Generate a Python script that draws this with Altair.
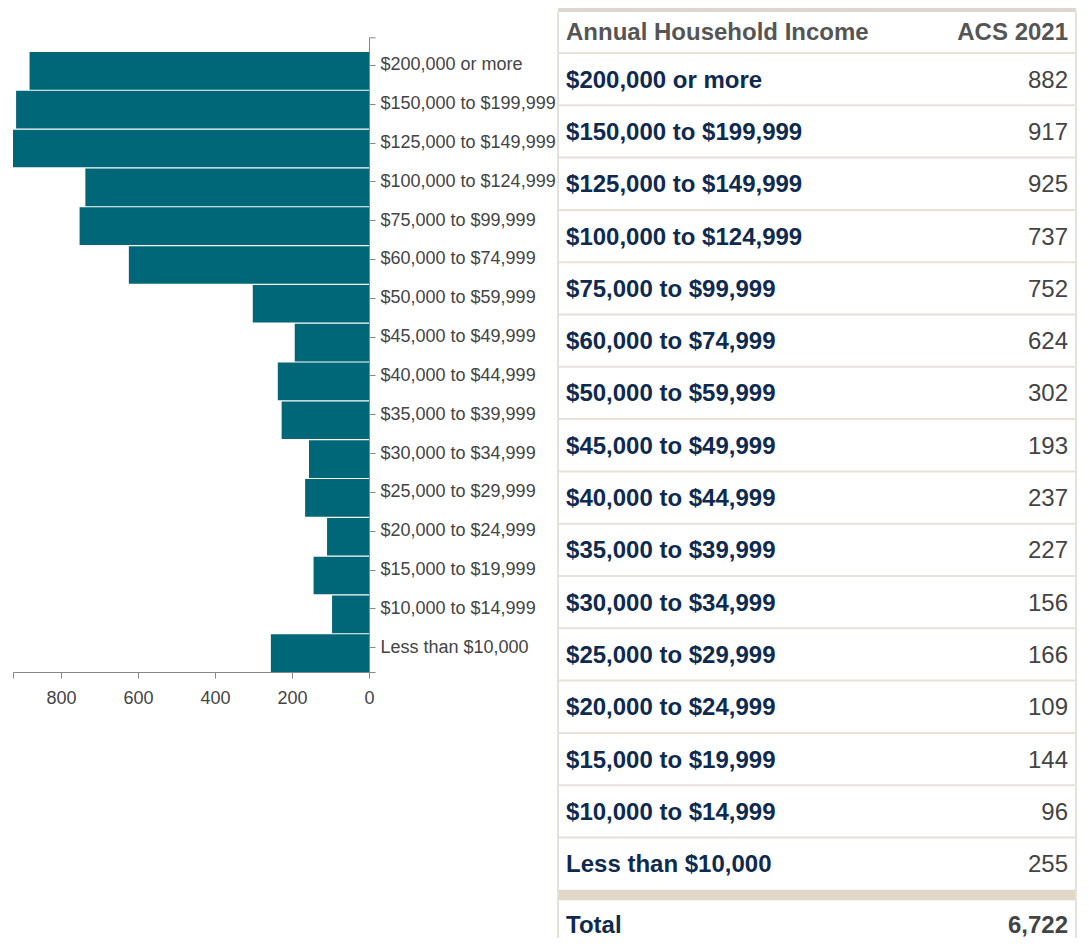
import altair as alt
import pandas as pd

# ---- data ----
categories = [
    "$200,000 or more", "$150,000 to $199,999", "$125,000 to $149,999",
    "$100,000 to $124,999", "$75,000 to $99,999", "$60,000 to $74,999",
    "$50,000 to $59,999", "$45,000 to $49,999", "$40,000 to $44,999",
    "$35,000 to $39,999", "$30,000 to $34,999", "$25,000 to $29,999",
    "$20,000 to $24,999", "$15,000 to $19,999", "$10,000 to $14,999",
    "Less than $10,000",
]
households = [882, 917, 925, 737, 752, 624, 302, 193, 237, 227, 156, 166, 109, 144, 96, 255]
x_ticks = [0, 200, 400, 600, 800]
header_left = "Annual Household Income"
header_right = "ACS 2021"
total_label = "Total"

FONT = "Liberation Sans, Arial, sans-serif"
BAR = "#006778"
NAVY = "#0f2a4f"
GREY = "#444444"
HEAD = "#555555"
LINE = "#e7e2d9"
BAND = "#e0d7c9"
AXIS = "#888888"

df = pd.DataFrame({"income": categories, "households": households, "row": list(range(len(categories)))})
xmax = max(households)

# ---- bar chart ----
BAR_W, BAR_H = 356, 664
Y_TOP = 29.3
bars = alt.Chart(df).mark_bar(color=BAR).encode(
    x=alt.X(
        "households:Q",
        scale=alt.Scale(domain=[0, xmax], reverse=True, nice=False, zero=True),
        axis=alt.Axis(
            values=x_ticks + [xmax], labelExpr=f"datum.value > {x_ticks[-1]} ? '' : datum.label",
            title=None, grid=False, labelFlush=False, labelFontSize=18, labelFont=FONT,
            labelColor=GREY, domainColor=AXIS, tickColor=AXIS, tickSize=6, labelPadding=11,
        ),
    ),
    y=alt.Y(
        "income:N", sort=categories,
        scale=alt.Scale(range=[Y_TOP, BAR_H], paddingInner=0.03, paddingOuter=0.19, align=1),
        axis=alt.Axis(
            orient="right", title=None, tickOffset=-6, labelFontSize=18, labelFont=FONT,
            labelColor=GREY, domainColor=AXIS, tickColor=AXIS, tickSize=6, labelPadding=5,
            grid=False,
        ),
    ),
)
# outer end ticks of the right-hand axis (axis styling)
outer_top = alt.Chart(df.head(1)).mark_rule(color=AXIS, strokeWidth=1).encode(
    x=alt.value(BAR_W + 0.5), x2=alt.value(BAR_W + 6.5), y=alt.value(Y_TOP + 0.5)
)
outer_bot = alt.Chart(df.head(1)).mark_rule(color=AXIS, strokeWidth=1).encode(
    x=alt.value(BAR_W + 0.5), x2=alt.value(BAR_W + 6.5), y=alt.value(BAR_H + 0.5)
)
bar_chart = alt.layer(bars, outer_top, outer_bot).properties(width=BAR_W, height=BAR_H)

# ---- table ----
U0, U1 = -0.8604, 16.922
ROWH = 52.3
tx = alt.Scale(domain=[0, 1], nice=False, zero=False)
ty = alt.Scale(domain=[U0, U1], reverse=True, nice=False, zero=False)

def X(v):
    return alt.XDatum(v, scale=tx, axis=None, type="quantitative")

def Y(v):
    return alt.YDatum(v, scale=ty, axis=None, type="quantitative")

XL, XR = 0.0155, 0.9846
FS = 24
DY = 1.5

lines_df = pd.DataFrame({"row": list(range(len(categories)))})
sep = alt.Chart(lines_df).mark_rule(color=LINE, strokeWidth=2).encode(
    x=X(0), x2=alt.X2Datum(1), y=alt.Y("row:Q", scale=ty, axis=None)
)
top_border = alt.Chart(lines_df.head(1)).mark_rule(color="#ddd7cd", strokeWidth=4).encode(
    x=X(0), x2=alt.X2Datum(1), y=Y(-0.822)
)
band = alt.Chart(lines_df.head(1)).mark_rect(color=BAND).encode(
    x=X(0), x2=alt.X2Datum(1), y=Y(len(categories)), y2=alt.Y2Datum(len(categories) + 0.2)
)
vborders = alt.Chart(pd.DataFrame({"side": [0, 1]})).mark_rule(color=LINE, strokeWidth=2).encode(
    x=alt.X("side:Q", scale=tx, axis=None), y=Y(-0.8), y2=alt.Y2Datum(U1)
)

head_l = alt.Chart(lines_df.head(1)).mark_text(
    align="left", baseline="middle", dy=DY, font=FONT, fontSize=FS, fontWeight="bold", color=HEAD
).encode(x=X(XL), y=Y(-0.42), text=alt.value(header_left))
head_r = alt.Chart(lines_df.head(1)).mark_text(
    align="right", baseline="middle", dy=DY, font=FONT, fontSize=FS, fontWeight="bold", color=HEAD
).encode(x=X(XR), y=Y(-0.42), text=alt.value(header_right))

row_base = alt.Chart(df).transform_calculate(mid="datum.row + 0.5")
labels = row_base.mark_text(
    align="left", baseline="middle", dy=DY, font=FONT, fontSize=FS, fontWeight="bold", color=NAVY
).encode(x=X(XL), y=alt.Y("mid:Q", scale=ty, axis=None), text="income:N")
values = row_base.mark_text(
    align="right", baseline="middle", dy=DY, font=FONT, fontSize=FS, color=GREY
).encode(x=X(XR), y=alt.Y("mid:Q", scale=ty, axis=None), text=alt.Text("households:Q", format=","))

tot_base = alt.Chart(df).transform_aggregate(total="sum(households)")
tot_l = tot_base.mark_text(
    align="left", baseline="middle", dy=DY, font=FONT, fontSize=FS, fontWeight="bold", color=NAVY
).encode(x=X(XL), y=Y(len(categories) + 0.67), text=alt.value(total_label))
tot_r = tot_base.mark_text(
    align="right", baseline="middle", dy=DY, font=FONT, fontSize=FS, fontWeight="bold", color=GREY
).encode(x=X(XR), y=Y(len(categories) + 0.67), text=alt.Text("total:Q", format=","))

table = alt.layer(
    sep, top_border, band, vborders, head_l, head_r, labels, values, tot_l, tot_r
).properties(width=518, height=round((U1 - U0) * ROWH))

chart = alt.hconcat(bar_chart, table, spacing=0).properties(
    padding={"left": 4, "top": 0, "right": 0, "bottom": 0}
).configure_view(stroke=None)

chart.save("out.html", embed_options={"renderer": "svg", "actions": False})
